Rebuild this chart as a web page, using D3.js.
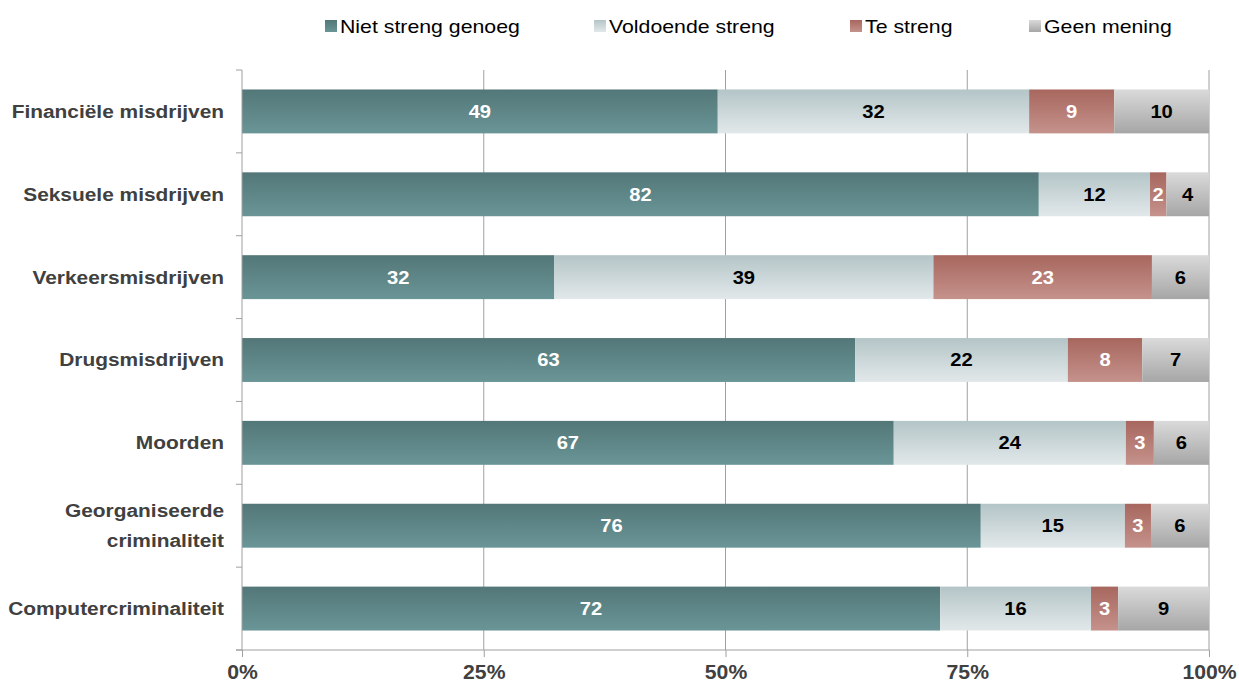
<!DOCTYPE html>
<html>
<head>
<meta charset="utf-8">
<script src="https://cdn.jsdelivr.net/npm/d3@7"></script>
<style>
  body { margin: 0; background: #fff; }
  text { font-family: "Liberation Sans", Arial, sans-serif; }
</style>
</head>
<body>
<div id="chart"></div>
<script>
// categories, top to bottom
const categories = ["Financiële misdrijven", "Seksuele misdrijven", "Verkeersmisdrijven",
  "Drugsmisdrijven", "Moorden", "Georganiseerde criminaliteit", "Computercriminaliteit"];
const seriesNames = ["Niet streng genoeg", "Voldoende streng", "Te streng", "Geen mening"];

// percentages per series
const nietStreng = [49.2, 82.4, 32.3, 63.4, 67.4, 76.4, 72.2];
const voldoende  = [32.2, 11.5, 39.2, 22.0, 24.0, 14.9, 15.6];
const teStreng   = [8.8, 1.7, 22.6, 7.7, 2.9, 2.7, 2.8];
const geenMening = [9.8, 4.4, 5.9, 6.9, 5.7, 6.0, 9.4];
const xTicks = [0, 25, 50, 75, 100];

const width = 1239, height = 686;
const margin = {top: 70, right: 30, bottom: 36, left: 242};

// gradient colours per series: [top, bottom], label colour
const grads = [
  ["#537778", "#6a9597", "#fff"],
  ["#b4c5c7", "#e2e8ea", "#000"],
  ["#a7675e", "#c5928c", "#fff"],
  ["#dadada", "#a6a6a6", "#000"]
];

const svg = d3.select("#chart").append("svg")
  .attr("width", width)
  .attr("height", height);

const defs = svg.append("defs");
grads.forEach((g, i) => {
  const lg = defs.append("linearGradient")
    .attr("id", "g" + i)
    .attr("x1", 0).attr("y1", 0).attr("x2", 0).attr("y2", 1);
  lg.append("stop").attr("offset", "0%").attr("stop-color", g[0]);
  lg.append("stop").attr("offset", "100%").attr("stop-color", g[1]);
});

// small helper: stretch text horizontally a bit (source looks widened)
function stretch(sel, k) {
  sel.each(function() {
    const w = this.getComputedTextLength();
    d3.select(this).attr("textLength", w * k).attr("lengthAdjust", "spacingAndGlyphs");
  });
}

const x = d3.scaleLinear().domain([0, 100]).range([margin.left, width - margin.right]);
const y = d3.scaleBand().domain(categories)
  .range([margin.top, height - margin.bottom])
  .paddingInner(0.47).paddingOuter(0.235);

// grid lines
svg.append("g").selectAll("line")
  .data(xTicks.slice(1))
  .enter().append("line")
  .attr("x1", d => x(d)).attr("x2", d => x(d))
  .attr("y1", margin.top).attr("y2", height - margin.bottom)
  .attr("stroke", "#a0a0a0").attr("stroke-width", 1);

// stacking
const rows = categories.map((c, i) => ({
  cat: c, vals: [nietStreng[i], voldoende[i], teStreng[i], geenMening[i]]
}));
const stack = d3.stack().keys([0, 1, 2, 3]).value((d, k) => d.vals[k]);
const layers = stack(rows);

const layerG = svg.append("g").selectAll("g")
  .data(layers)
  .enter().append("g")
  .attr("fill", (d, i) => `url(#g${i})`);

layerG.selectAll("rect")
  .data(d => d)
  .enter().append("rect")
  .attr("x", d => x(d[0]))
  .attr("width", d => x(d[1]) - x(d[0]))
  .attr("y", d => y(d.data.cat))
  .attr("height", y.bandwidth());

// value labels
const lbl = layerG.selectAll("text")
  .data((d, i) => d.map(p => ({p: p, s: i})))
  .enter().append("text")
  .attr("x", d => (x(d.p[0]) + x(d.p[1])) / 2)
  .attr("y", d => y(d.p.data.cat) + y.bandwidth() / 2)
  .attr("dy", "0.36em")
  .attr("text-anchor", "middle")
  .attr("fill", d => grads[d.s][2])
  .style("font-size", "18px")
  .style("font-weight", "bold")
  .text(d => d3.format(".0f")(d.p[1] - d.p[0]));
stretch(lbl, 1.12);

// y axis line and band ticks
svg.append("line")
  .attr("x1", margin.left).attr("x2", margin.left)
  .attr("y1", margin.top).attr("y2", height - margin.bottom)
  .attr("stroke", "#a0a0a0");
svg.append("g").selectAll("line")
  .data(d3.range(categories.length + 1))
  .enter().append("line")
  .attr("x1", margin.left - 6).attr("x2", margin.left)
  .attr("y1", i => margin.top + i * y.step())
  .attr("y2", i => margin.top + i * y.step())
  .attr("stroke", "#a0a0a0");

// category labels
const catLbl = svg.append("g").selectAll("text")
  .data(categories)
  .enter().append("text")
  .attr("text-anchor", "end")
  .attr("fill", "#404040")
  .style("font-size", "18px")
  .style("font-weight", "bold")
  .attr("transform", d => `translate(224,${y(d) + y.bandwidth() / 2})`);
catLbl.each(function(d) {
  const parts = d === "Georganiseerde criminaliteit" ? ["Georganiseerde", "criminaliteit"] : [d];
  const t = d3.select(this);
  parts.forEach((p, j) => {
    t.append("tspan")
      .attr("x", 0)
      .attr("y", (j - (parts.length - 1) / 2) * 30)
      .attr("dy", "0.36em")
      .text(p);
  });
});
catLbl.selectAll("tspan").each(function() {
  const w = this.getComputedTextLength();
  d3.select(this).attr("textLength", w * 1.16).attr("lengthAdjust", "spacingAndGlyphs");
});

// x axis
const xAxis = svg.append("g")
  .attr("transform", `translate(0,${height - margin.bottom})`)
  .call(d3.axisBottom(x).tickValues(xTicks).tickFormat(d => d + "%").tickSize(7).tickPadding(8))
  .call(g => g.select(".domain").attr("stroke", "#a0a0a0").attr("d", `M${margin.left - 6},0H${width - margin.right}`));
xAxis.selectAll(".tick line").attr("stroke", "#a0a0a0");
xAxis.selectAll(".tick text")
  .attr("fill", "#404040")
  .style("font-family", "'Liberation Sans', Arial, sans-serif")
  .style("font-size", "20px")
  .style("font-weight", "bold");
stretch(xAxis.selectAll(".tick text"), 1.06);

// legend
const legendX = [325, 594, 850, 1029];
const leg = svg.append("g").selectAll("g")
  .data(seriesNames)
  .enter().append("g")
  .attr("transform", (d, i) => `translate(${legendX[i]},20)`);
leg.append("rect")
  .attr("width", 12).attr("height", 12)
  .attr("fill", (d, i) => `url(#g${i})`);
const legTxt = leg.append("text")
  .attr("x", 15).attr("y", 6)
  .attr("dy", "0.36em")
  .attr("fill", "#000")
  .style("font-size", "19px")
  .text(d => d);
stretch(legTxt, 1.12);
</script>
</body>
</html>
